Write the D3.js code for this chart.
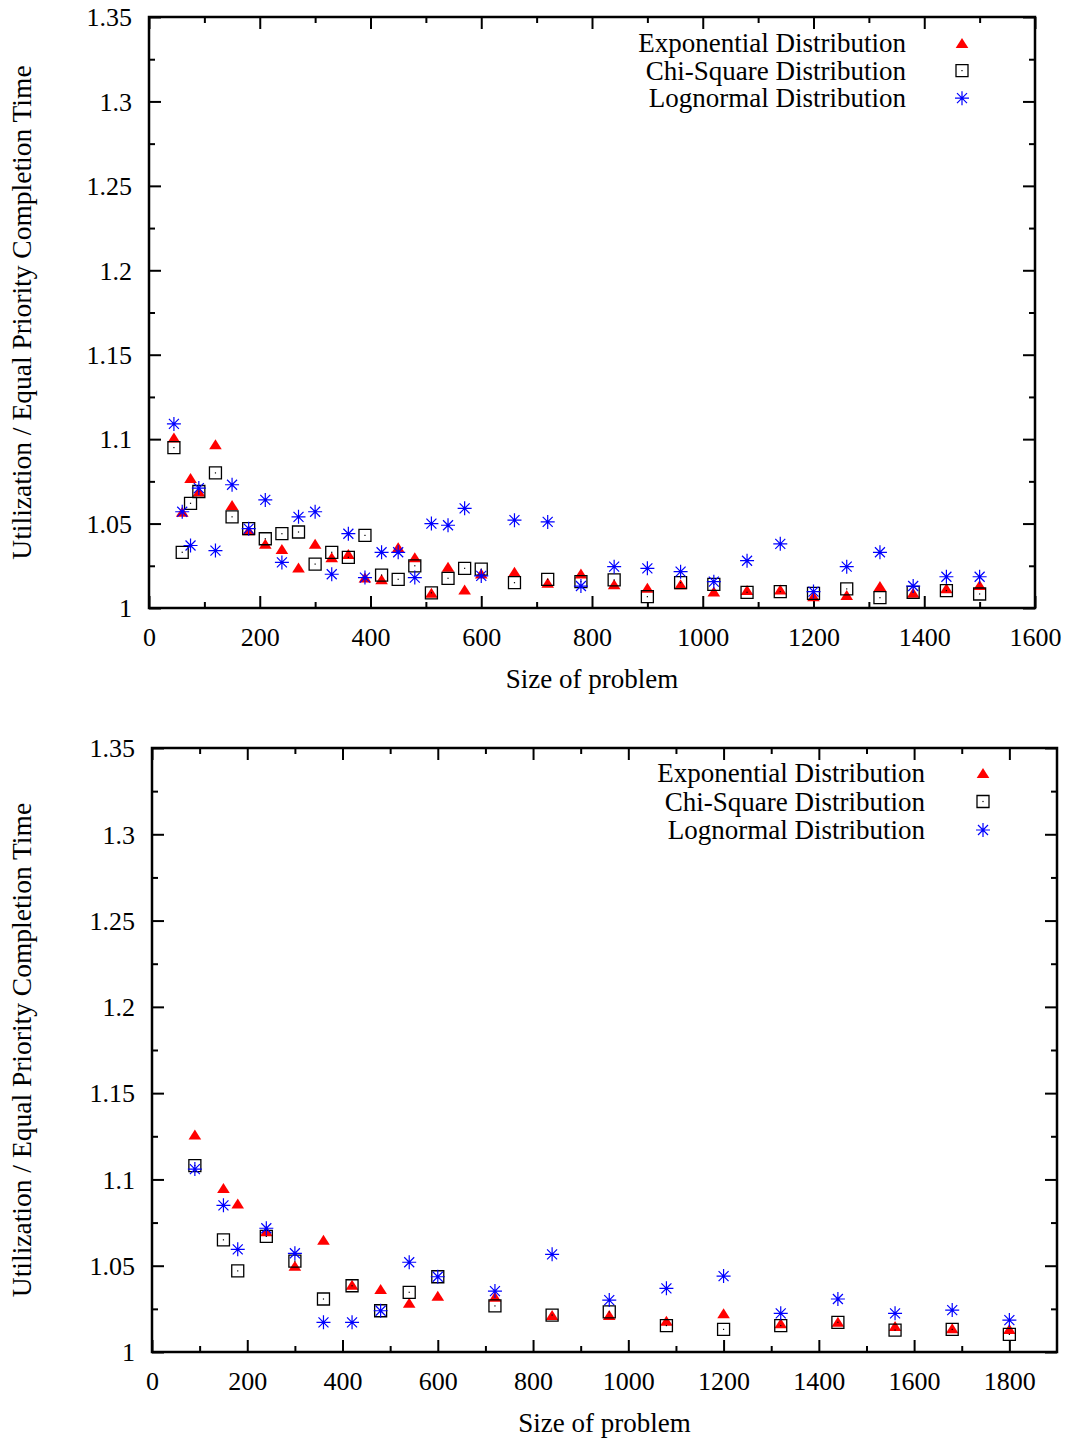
<!DOCTYPE html>
<html>
<head>
<meta charset="utf-8">
<script src="https://cdn.jsdelivr.net/npm/d3@7"></script>
<style>
  body { margin: 0; background: #fff; }
  svg { display: block; }
  text { font-family: "Liberation Serif", "Times New Roman", Times, serif; fill: #000; }
</style>
</head>
<body>
<svg id="chart" width="1071" height="1441"></svg>
<script>
// ---- Upper panel: problem sizes and ratios per distribution ----
const topSizes = [45, 60, 75, 90, 120, 150, 180, 210, 240, 270, 300, 330, 360, 390, 420, 450, 480, 510, 540, 570, 600,
  660, 720, 780, 840, 900, 960, 1020, 1080, 1140, 1200, 1260, 1320, 1380, 1440, 1500];
const topExponential = [1.101, 1.057, 1.077, 1.069, 1.097, 1.061, 1.046, 1.038, 1.035, 1.024, 1.038, 1.030, 1.032, 1.018,
  1.017, 1.036, 1.030, 1.009, 1.0245, 1.011, 1.0205, 1.0215, 1.015, 1.0205, 1.014, 1.012, 1.014, 1.0097, 1.0107, 1.011,
  1.007, 1.0077, 1.013, 1.009, 1.0117, 1.0136];
const topChiSquare = [1.095, 1.033, 1.062, 1.069, 1.080, 1.054, 1.047, 1.041, 1.044, 1.045, 1.026, 1.033, 1.030, 1.043,
  1.0195, 1.017, 1.025, 1.009, 1.0176, 1.0235, 1.023, 1.015, 1.017, 1.0156, 1.0166, 1.0067, 1.015, 1.014, 1.0093, 1.0097,
  1.0087, 1.0113, 1.0061, 1.0093, 1.0103, 1.0083];
const topLognormal = [1.109, 1.057, 1.037, 1.071, 1.034, 1.073, 1.047, 1.064, 1.027, 1.054, 1.057, 1.020, 1.044, 1.018,
  1.033, 1.033, 1.018, 1.050, 1.049, 1.059, 1.019, 1.052, 1.051, 1.013, 1.0245, 1.0235, 1.0215, 1.0156, 1.028, 1.038,
  1.0097, 1.0245, 1.033, 1.013, 1.0185, 1.0185];

// ---- Lower panel ----
const bottomSizes = [90, 150, 180, 240, 300, 360, 420, 480, 540, 600, 720, 840, 960, 1080, 1200, 1320, 1440, 1560, 1680, 1800];
const bottomExponential = [1.126, 1.095, 1.086, 1.070, 1.050, 1.065, 1.039, 1.0365, 1.0286, 1.0326, 1.032, 1.0214, 1.0214,
  1.0181, 1.0224, 1.0166, 1.0176, 1.0151, 1.0137, 1.0133];
const bottomChiSquare = [1.108, 1.065, 1.047, 1.067, 1.0527, 1.0307, 1.0384, 1.0239, 1.0346, 1.0436, 1.0267, 1.0214, 1.0232,
  1.0153, 1.0131, 1.0153, 1.0172, 1.0127, 1.0131, 1.0102];
const bottomLognormal = [1.106, 1.085, 1.0595, 1.0717, 1.0572, 1.0172, 1.0172, 1.0239, 1.052, 1.0436, 1.0353, 1.0566, 1.0301,
  1.0369, 1.044, 1.0224, 1.0307, 1.0224, 1.0243, 1.0185];

// ---- Axis ticks ----
const yTicks = [1, 1.05, 1.1, 1.15, 1.2, 1.25, 1.3, 1.35];
const yTickLabels = ["1", "1.05", "1.1", "1.15", "1.2", "1.25", "1.3", "1.35"];
const topXTicks = [0, 200, 400, 600, 800, 1000, 1200, 1400, 1600];
const bottomXTicks = [0, 200, 400, 600, 800, 1000, 1200, 1400, 1600, 1800];

const seriesNames = ["Exponential Distribution", "Chi-Square Distribution", "Lognormal Distribution"];
const xTitle = "Size of problem";
const yTitle = "Utilization / Equal Priority Completion Time";

// ---- Point symbols ----
const triangleType = { draw(ctx) { ctx.moveTo(0, -5); ctx.lineTo(6.3, 5); ctx.lineTo(-6.3, 5); ctx.closePath(); } };
const squareType = { draw(ctx) { ctx.rect(-6, -6, 12, 12); } };
const starType = { draw(ctx) {
  const a = 7, d = 5;
  ctx.moveTo(-a, 0); ctx.lineTo(a, 0);
  ctx.moveTo(0, -a); ctx.lineTo(0, a);
  ctx.moveTo(-d, -d); ctx.lineTo(d, d);
  ctx.moveTo(-d, d); ctx.lineTo(d, -d);
} };
const markStyles = [
  { type: triangleType, fill: "#ff0000", stroke: "none", sw: 0, dot: false },
  { type: squareType, fill: "none", stroke: "#000", sw: 1.3, dot: true },
  { type: starType, fill: "none", stroke: "#0000ff", sw: 1.2, dot: true }
];

const svg = d3.select("#chart");
const FONT = 27, TITLE_FONT = 27.5, TICK_FONT = 26;
const MAJOR = 12, MINOR = 6;

function drawMark(g, style, cx, cy) {
  const s = g.append("g").attr("transform", `translate(${cx},${cy})`);
  s.append("path")
    .attr("d", d3.symbol().type(style.type)())
    .attr("fill", style.fill)
    .attr("stroke", style.stroke)
    .attr("stroke-width", style.sw);
  if (style.dot) {
    s.append("rect").attr("x", -0.6).attr("y", -0.6).attr("width", 1.2).attr("height", 1.2)
      .attr("fill", style.stroke);
  }
}

function styleAxis(sel) {
  sel.select(".domain").remove();
  sel.selectAll(".tick line").attr("stroke", "#000").attr("stroke-width", 2);
  sel.attr("font-family", null).attr("font-size", TICK_FONT);
}

function drawPanel(p) {
  const x = d3.scaleLinear().domain([0, p.xMax]).range([p.left, p.right]);
  const y = d3.scaleLinear().domain([1, 1.35]).range([p.bottom, p.top]);
  const g = svg.append("g");

  const xMinor = d3.range(100, p.xMax, 200);
  const yMinor = d3.range(1.025, 1.35, 0.05);

  // bottom axis with labels
  const xb = g.append("g").attr("transform", `translate(0,${p.bottom})`)
    .call(d3.axisBottom(x).tickValues(p.xTicks).tickSize(-MAJOR).tickFormat(d3.format("d")));
  styleAxis(xb);
  xb.selectAll(".tick text").attr("y", 38).attr("dy", null);
  g.append("g").attr("transform", `translate(0,${p.bottom})`)
    .call(d3.axisBottom(x).tickValues(xMinor).tickSize(-MINOR).tickFormat(""))
    .call(styleAxis);
  // mirrored top axis
  g.append("g").attr("transform", `translate(0,${p.top})`)
    .call(d3.axisTop(x).tickValues(p.xTicks).tickSize(-MAJOR).tickFormat(""))
    .call(styleAxis);
  g.append("g").attr("transform", `translate(0,${p.top})`)
    .call(d3.axisTop(x).tickValues(xMinor).tickSize(-MINOR).tickFormat(""))
    .call(styleAxis);

  // left axis with labels
  const yl = g.append("g").attr("transform", `translate(${p.left},0)`)
    .call(d3.axisLeft(y).tickValues(yTicks).tickSize(-MAJOR)
      .tickFormat((d, i) => yTickLabels[i]));
  styleAxis(yl);
  yl.selectAll(".tick text").attr("x", -17).attr("dy", "0.34em");
  g.append("g").attr("transform", `translate(${p.left},0)`)
    .call(d3.axisLeft(y).tickValues(yMinor).tickSize(-MINOR).tickFormat(""))
    .call(styleAxis);
  // mirrored right axis
  g.append("g").attr("transform", `translate(${p.right},0)`)
    .call(d3.axisRight(y).tickValues(yTicks).tickSize(-MAJOR).tickFormat(""))
    .call(styleAxis);
  g.append("g").attr("transform", `translate(${p.right},0)`)
    .call(d3.axisRight(y).tickValues(yMinor).tickSize(-MINOR).tickFormat(""))
    .call(styleAxis);

  // frame
  g.append("rect")
    .attr("x", p.left).attr("y", p.top)
    .attr("width", p.right - p.left).attr("height", p.bottom - p.top)
    .attr("fill", "none").attr("stroke", "#000").attr("stroke-width", 2.5);

  // points: triangles, then squares, then stars on top
  p.series.forEach((vals, si) => {
    vals.forEach((v, i) => drawMark(g, markStyles[si], x(p.sizes[i]), y(v)));
  });

  // legend
  seriesNames.forEach((name, i) => {
    const base = p.legendBase + i * p.legendStep;
    g.append("text").attr("x", p.legendTextX).attr("y", base)
      .attr("text-anchor", "end").attr("font-size", FONT).text(name);
    drawMark(g, markStyles[i], p.legendSymX, base - 9);
  });

  // axis titles
  g.append("text").attr("x", (p.left + p.right) / 2).attr("y", p.bottom + 80)
    .attr("text-anchor", "middle").attr("font-size", FONT).text(xTitle);
  g.append("text")
    .attr("transform", `translate(31,${(p.top + p.bottom) / 2}) rotate(-90)`)
    .attr("text-anchor", "middle").attr("font-size", TITLE_FONT).text(yTitle);
}

drawPanel({
  left: 149, right: 1035, top: 17, bottom: 608, xMax: 1600, xTicks: topXTicks,
  sizes: topSizes, series: [topExponential, topChiSquare, topLognormal],
  legendTextX: 906, legendSymX: 962, legendBase: 52, legendStep: 27.6
});
drawPanel({
  left: 152, right: 1057, top: 748, bottom: 1352, xMax: 1900, xTicks: bottomXTicks,
  sizes: bottomSizes, series: [bottomExponential, bottomChiSquare, bottomLognormal],
  legendTextX: 925, legendSymX: 983, legendBase: 782, legendStep: 28.5
});
</script>
</body>
</html>
